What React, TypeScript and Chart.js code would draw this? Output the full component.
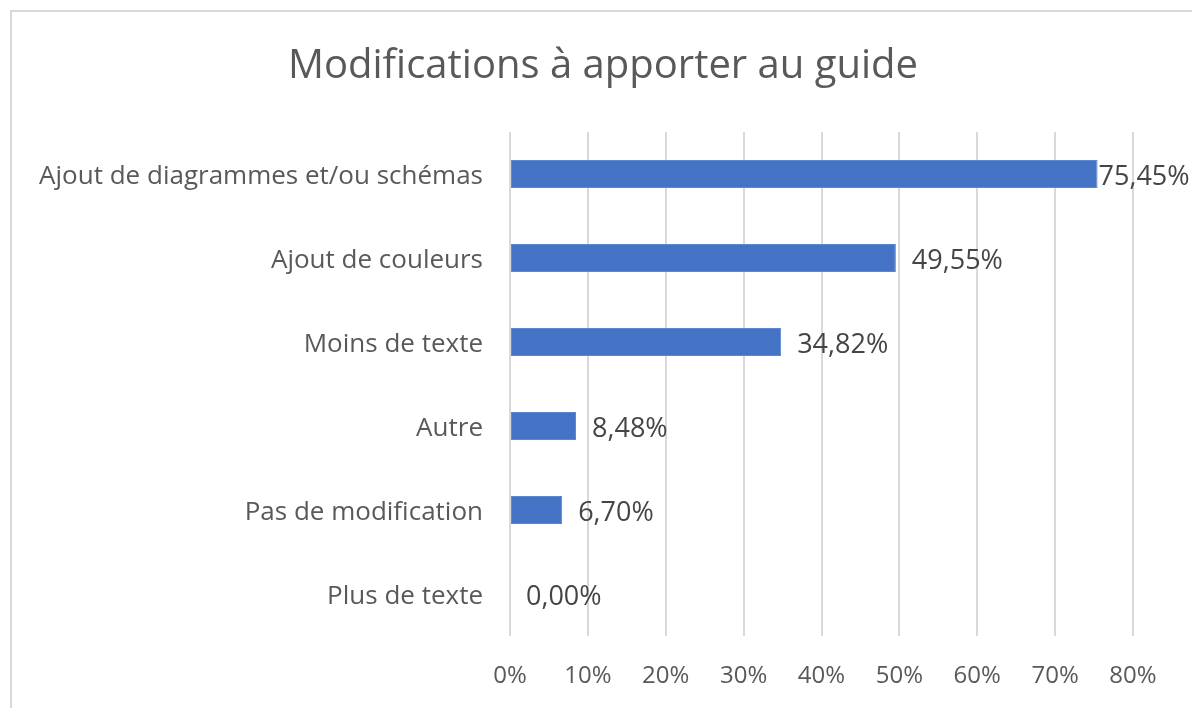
import React, { useEffect, useRef } from "react";
import { Chart, registerables } from "chart.js";

Chart.register(...registerables);

const TITLE = "Modifications à apporter au guide";
const categories = [
  "Ajout de diagrammes et/ou schémas",
  "Ajout de couleurs",
  "Moins de texte",
  "Autre",
  "Pas de modification",
  "Plus de texte",
];
const values = [75.45, 49.55, 34.82, 8.48, 6.7, 0.0];
const xTicks = [0, 10, 20, 30, 40, 50, 60, 70, 80];

const FONT = "'Open Sans', 'Noto Sans', sans-serif";
const TEXT = "#595959";
const LABEL = "#454545";
const BAR = "#4472C4";
const GRID = "#d9d9d9";

const fmt = (v: number) => v.toFixed(2).replace(".", ",") + "%";

const titlePlugin = {
  id: "centeredTitle",
  afterDraw(chart: any) {
    const ctx = chart.ctx;
    ctx.save();
    ctx.font = `40px ${FONT}`;
    ctx.fillStyle = TEXT;
    ctx.textAlign = "center";
    ctx.textBaseline = "middle";
    ctx.fillText(TITLE, 603, 67);
    ctx.restore();
  },
};

const labelPlugin = {
  id: "barLabels",
  afterDatasetsDraw(chart: any) {
    const ctx = chart.ctx;
    const meta = chart.getDatasetMeta(0);
    ctx.save();
    ctx.font = `27px ${FONT}`;
    ctx.fillStyle = LABEL;
    ctx.textBaseline = "middle";
    ctx.textAlign = "left";
    const limit = chart.width - 31;
    meta.data.forEach((el: any, i: number) => {
      const t = fmt(values[i]);
      const w = ctx.measureText(t).width;
      let x = el.x + 16;
      if (x + w > limit) x = Math.max(el.x + 1, limit - w);
      ctx.fillText(t, x, el.y + 3);
    });
    ctx.restore();
  },
};

export default function App() {
  const ref = useRef<HTMLCanvasElement>(null);
  useEffect(() => {
    const chart = new Chart(ref.current!, {
      type: "bar",
      data: {
        labels: categories,
        datasets: [
          {
            data: values,
            backgroundColor: BAR,
            borderColor: "#5b86d0",
            borderWidth: 1,
            borderSkipped: false,
            categoryPercentage: 1,
            barPercentage: 0.333,
          },
        ],
      },
      options: {
        indexAxis: "y",
        animation: false,
        responsive: false,
        layout: { padding: { left: 0, right: 59, top: 132, bottom: 0 } },
        plugins: {
          legend: { display: false },
          tooltip: { enabled: false },
          title: { display: false },
        },
        scales: {
          x: {
            min: 0,
            max: 80,
            afterBuildTicks: (s: any) => {
              s.ticks = xTicks.map((v) => ({ value: v }));
            },
            afterFit: (s: any) => {
              s.height = 72;
            },
            grid: { color: GRID, lineWidth: 2, drawTicks: false },
            border: { display: false },
            ticks: {
              color: TEXT,
              font: { family: FONT, size: 24 },
              padding: 26,
              callback: (v: any) => `${v}%`,
            },
          },
          y: {
            afterFit: (s: any) => {
              s.width = 510;
            },
            grid: { display: false, drawTicks: false },
            border: { display: false },
            ticks: {
              color: TEXT,
              font: { family: FONT, size: 26 },
              padding: 27,
              labelOffset: 3,
            },
          },
        },
      },
      plugins: [labelPlugin, titlePlugin],
    } as any);
    return () => chart.destroy();
  }, []);
  return (
    <div style={{ position: "fixed", left: 0, top: 0, width: 1192, height: 708, background: "#fff", overflow: "hidden" }}>
      <div
        style={{
          position: "absolute",
          left: 10,
          top: 10,
          width: 1200,
          height: 720,
          border: "2px solid #d9d9d9",
          boxSizing: "border-box",
        }}
      />
      <canvas ref={ref} width={1192} height={708} style={{ position: "absolute", left: 0, top: 0, width: 1192, height: 708 }} />
    </div>
  );
}
